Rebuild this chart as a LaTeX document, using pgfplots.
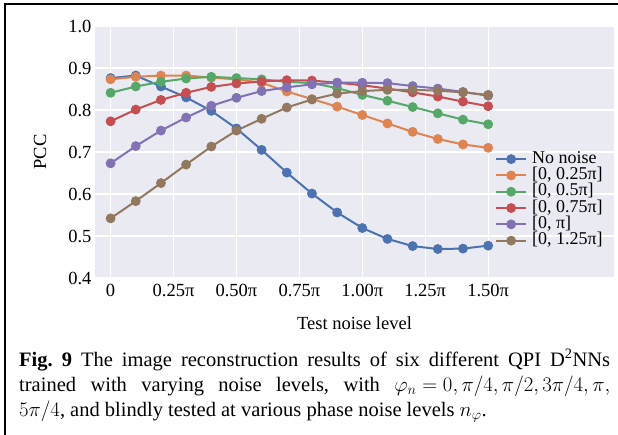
\documentclass[border=0pt]{standalone}
\usepackage{fontspec}
\setmainfont{Liberation Serif}
\usepackage{pgfplots}
\usepackage{pgfplotstable}
\pgfplotsset{compat=1.18}
\definecolor{sbblue}{HTML}{4C72B0}
\definecolor{sborange}{HTML}{DD8452}
\definecolor{sbgreen}{HTML}{55A868}
\definecolor{sbred}{HTML}{C44E52}
\definecolor{sbpurple}{HTML}{8172B3}
\definecolor{sbbrown}{HTML}{937860}
\definecolor{sbbg}{HTML}{EAEAF2}

\pgfplotstableread{
x    nonoise  a025   a05    a075   api    a125
0.0  0.876    0.873  0.841  0.773  0.673  0.542
0.1  0.882    0.879  0.856  0.801  0.714  0.583
0.2  0.856    0.882  0.867  0.824  0.751  0.626
0.3  0.830    0.882  0.875  0.841  0.782  0.670
0.4  0.798    0.877  0.879  0.855  0.810  0.713
0.5  0.756    0.873  0.876  0.863  0.829  0.751
0.6  0.705    0.865  0.873  0.868  0.845  0.779
0.7  0.651    0.844  0.867  0.871  0.854  0.806
0.8  0.601    0.826  0.864  0.870  0.861  0.825
0.9  0.556    0.808  0.852  0.865  0.865  0.839
1.0  0.519    0.788  0.836  0.859  0.865  0.845
1.1  0.493    0.768  0.822  0.851  0.864  0.848
1.2  0.476    0.748  0.807  0.842  0.857  0.848
1.3  0.469    0.731  0.792  0.832  0.851  0.846
1.4  0.470    0.718  0.777  0.820  0.843  0.842
1.5  0.477    0.710  0.766  0.809  0.834  0.836
}\datatable

\begin{document}
\frenchspacing
\begin{tikzpicture}
\useasboundingbox (0,0) rectangle (618pt,435pt);
\fill[white] (0,0) rectangle (618pt,435pt);
\draw[line width=2pt] (5pt,-3pt) -- (5pt,430.7pt) -- (622pt,430.7pt);
\begin{axis}[
  at={(95pt,157pt)}, anchor=south west,
  scale only axis, width=519pt, height=252pt,
  xmin=-0.062, xmax=2.0, ymin=0.4, ymax=1.0,
  axis background/.style={fill=sbbg},
  axis line style={draw=none},
  major tick length=0pt,
  grid=major, grid style={white, line width=1.3pt},
  xtick={0,0.25,0.5,0.75,1,1.25,1.5},
  xticklabels={0, 0.25π, 0.50π, 0.75π, 1.00π, 1.25π, 1.50π},
  ytick={0.4,0.5,0.6,0.7,0.8,0.9,1.0},
  /pgf/number format/assume math mode=true,
  yticklabel style={/pgf/number format/.cd, fixed, fixed zerofill, precision=1},
  xticklabel style={yshift=-2.5pt},
  tick label style={font=\fontsize{18.5}{20}\selectfont},
  xlabel={Test noise level},
  ylabel={PCC},
  label style={font=\fontsize{18.5}{20}\selectfont},
  xlabel style={at={(axis description cs:0.5,-0.179)}, anchor=center},
  ylabel style={at={(axis description cs:-0.106,0.5)}, anchor=center},
  legend style={at={(0.771,0.504)}, anchor=north west, draw=none, fill=none,
    inner sep=0pt, outer sep=0pt, font=\fontsize{18}{20}\selectfont,
    nodes={inner sep=0pt, text height=12.3pt, text depth=4pt},
    row sep=0pt, column sep=0pt,
    /tikz/every odd column/.append style={column sep=5pt}},
  legend cell align=left,
  legend image code/.code={\draw[mark repeat=2, mark phase=2] plot coordinates {(0pt,0pt) (15pt,0pt) (30pt,0pt)};},
  every axis plot/.append style={line width=2pt, mark=*, mark size=4.5pt, mark options={solid, line width=0.8pt}},
]
\addplot[color=sbblue] table[x=x, y=nonoise] {\datatable};
\addlegendentry{No noise}
\addplot[color=sborange] table[x=x, y=a025] {\datatable};
\addlegendentry{[0, 0.25π]}
\addplot[color=sbgreen] table[x=x, y=a05] {\datatable};
\addlegendentry{[0, 0.5π]}
\addplot[color=sbred] table[x=x, y=a075] {\datatable};
\addlegendentry{[0, 0.75π]}
\addplot[color=sbpurple] table[x=x, y=api] {\datatable};
\addlegendentry{[0, π]}
\addplot[color=sbbrown] table[x=x, y=a125] {\datatable};
\addlegendentry{[0, 1.25π]}
\end{axis}
\node[anchor=north west, inner sep=0pt, text width=591pt, align=justify,
  font=\fontsize{20.5}{25}\selectfont] at (19pt,86pt)
  {\textbf{Fig. 9} The image reconstruction results of six different QPI D\textsuperscript{2}NNs\linebreak
   trained with varying noise levels, with ${\varphi_n = 0, \pi/4, \pi/2, 3\pi/4, \pi,}$\linebreak
   ${5\pi/4}$, and blindly tested at various phase noise levels ${n_\varphi}$.};
\end{tikzpicture}
\end{document}
